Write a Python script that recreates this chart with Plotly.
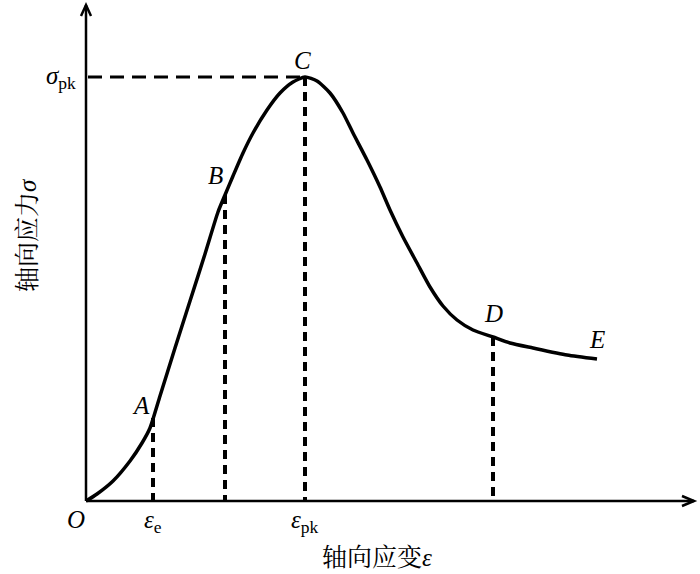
import plotly.graph_objects as go

# Stress-strain curve (arbitrary units; x = axial strain, y = axial stress)
strain = [0, 11, 27, 44, 56, 64, 74, 89, 104, 119, 132, 139, 147, 157, 167, 181,
          194, 207, 219, 231, 244, 257, 267, 281, 294, 304, 317, 331, 344, 357,
          371, 387, 407, 424, 447, 481, 511]
stress = [0, 7, 20, 40, 58, 73, 105, 153, 200, 247, 289, 306, 325, 348, 368, 391,
          408, 419, 424, 420, 408, 388, 368, 341, 314, 291, 264, 238, 214, 195,
          181, 171, 164, 158, 153, 146, 142]

# Key points
pt_names = ["A", "B", "C", "D", "E"]
pt_strain = [67, 139, 219, 407, 511]
pt_stress = [83, 306, 424, 164, 142]

x_tick_labels = ["<i>ε</i><sub>e</sub>", "<i>ε</i><sub>pk</sub>"]
x_tick_vals = [67, 219]
y_tick_label = "<i>σ</i><sub>pk</sub>"
y_tick_val = 424

xaxis_title = "轴向应变<i>ε</i>"
yaxis_title = "轴向应力<i>σ</i>"

SERIF = "Liberation Serif, Times New Roman, Noto Serif CJK SC, Noto Sans CJK SC, serif"

fig = go.Figure()

fig.add_trace(go.Scatter(x=strain, y=stress, mode="lines",
                         line=dict(color="black", width=3.5, shape="spline", smoothing=0.6),
                         hoverinfo="skip", showlegend=False))

# dashed guide lines from A, B, C, D down to the strain axis
for nm, xs, ys in zip(pt_names[:4], pt_strain[:4], pt_stress[:4]):
    fig.add_trace(go.Scatter(x=[xs, xs], y=[ys, 0], mode="lines",
                             line=dict(color="black", width=4, dash="9px,6px"),
                             hoverinfo="skip", showlegend=False))
# horizontal dashed line to peak
fig.add_trace(go.Scatter(x=[2, pt_strain[2]], y=[pt_stress[2], pt_stress[2]], mode="lines",
                         line=dict(color="black", width=3, dash="14px,8px"),
                         hoverinfo="skip", showlegend=False))

# axes with open arrowheads
AX_W = 2.5
shapes = [
    dict(type="line", x0=0, y0=0, x1=608, y1=0, line=dict(color="black", width=AX_W)),
    dict(type="line", x0=0, y0=0, x1=0, y1=496, line=dict(color="black", width=AX_W)),
    dict(type="path", path="M -5,485 L 0,496 L 5,485", line=dict(color="black", width=AX_W)),
    dict(type="path", path="M 596,5 L 608,0 L 596,-5", line=dict(color="black", width=AX_W)),
]

FONT = dict(family=SERIF, size=25, color="black")
annotations = []
label_offsets = {"A": (-12, 13), "B": (-10, 20), "C": (-3, 17), "D": (0, 24), "E": (0, 20)}
for nm, xs, ys in zip(pt_names, pt_strain, pt_stress):
    dx, dy = label_offsets[nm]
    annotations.append(dict(x=xs + dx, y=ys + dy, text="<i>" + nm + "</i>", showarrow=False,
                            font=FONT, xanchor="center", yanchor="middle"))

annotations.append(dict(x=-10, y=-18, text="<i>O</i>", showarrow=False, font=FONT,
                        xanchor="center", yanchor="middle"))
for lab, xv in zip(x_tick_labels, x_tick_vals):
    annotations.append(dict(x=xv, y=-20, text=lab, showarrow=False, font=FONT,
                            xanchor="center", yanchor="middle"))
annotations.append(dict(x=-8, y=y_tick_val, text=y_tick_label, showarrow=False,
                        xanchor="right", yanchor="middle", font=FONT))
annotations.append(dict(x=291, y=-56, text=xaxis_title, showarrow=False,
                        xanchor="center", yanchor="middle",
                        font=dict(family=SERIF, size=25, color="black")))
annotations.append(dict(x=-59, y=266, text=yaxis_title, showarrow=False, textangle=-90,
                        xanchor="center", yanchor="middle",
                        font=dict(family=SERIF, size=25, color="black")))

fig.update_layout(
    width=700, height=574,
    margin=dict(l=0, r=0, t=0, b=0, pad=0),
    paper_bgcolor="white", plot_bgcolor="white",
    xaxis=dict(range=[-86, 614], visible=False, fixedrange=True),
    yaxis=dict(range=[-73, 501], visible=False, fixedrange=True),
    shapes=shapes, annotations=annotations, showlegend=False,
)

fig.write_html("out.html", config={"displayModeBar": False},
               post_script="document.body.style.margin='0px';")
